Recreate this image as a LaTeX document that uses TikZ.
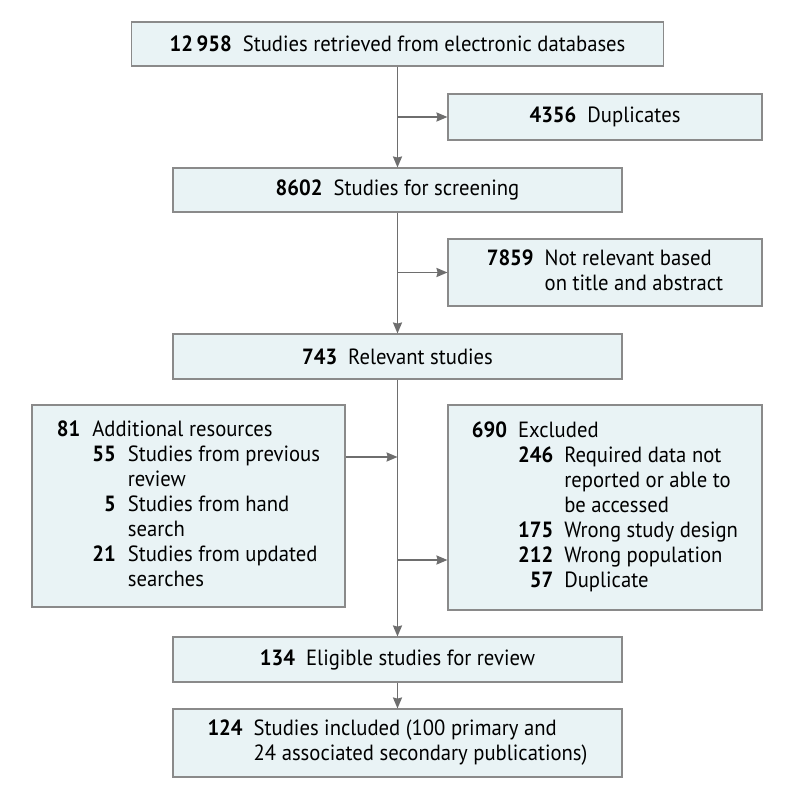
\documentclass[tikz,border=0pt]{standalone}
\usepackage{fontspec}
\setmainfont[FakeStretch=0.94]{PT Sans}
\usetikzlibrary{arrows.meta}
\definecolor{boxfill}{HTML}{E9F3F5}
\definecolor{boxline}{HTML}{8A8A8A}
\definecolor{arrline}{HTML}{6E6E6E}
\tikzset{
    stage/.style={draw=boxline, fill=boxfill, line width=0.6pt,
        inner sep=0pt, align=center,
        font=\fontsize{11pt}{12.5pt}\selectfont},
    flow/.style={draw=arrline, line width=0.65pt,
        -{Stealth[length=5.5pt, width=4.6pt, inset=0.6pt]}}
}
\begin{document}
\begin{tikzpicture}[x=0.5pt, y=-0.5pt]
\newcommand\cnt[1]{\textbf{#1}}
\useasboundingbox (0,0) rectangle (794,797);
\node[stage, minimum width=266pt, minimum height=22pt] (retr) at (397.5,44)
    {\cnt{12\,958}\hspace{5.5pt}Studies retrieved from electronic databases};
\node[stage, minimum width=157pt, minimum height=23pt] (dupl) at (605,117)
    {\cnt{4356}\hspace{5.5pt}Duplicates};
\node[stage, minimum width=224.5pt, minimum height=22pt] (scrn) at (397.5,190)
    {\cnt{8602}\hspace{5.5pt}Studies for screening};
\node[stage, minimum width=157pt, minimum height=33.5pt] (nrel) at (605,272.5)
    {\begin{tabular}{@{}r@{\hspace{5.5pt}}l@{}}
     \cnt{7859} & Not relevant based\\
                & on title and abstract
     \end{tabular}};
\node[stage, minimum width=224.5pt, minimum height=22.5pt] (rele) at (397.5,356.5)
    {\cnt{743}\hspace{5.5pt}Relevant studies};
\node[stage, minimum width=156.5pt, minimum height=101pt] (addl) at (188.5,506)
    {\begin{tabular}{@{}r@{\hspace{6pt}}r@{\hspace{6pt}}l@{}}
     \cnt{81} & \multicolumn{2}{@{}l@{}}{Additional resources}\\
      & \cnt{55} & Studies from previous\\
      &          & review\\
      & \cnt{5}  & Studies from hand\\
      &          & search\\
      & \cnt{21} & Studies from updated\\
      &          & searches
     \end{tabular}};
\node[stage, minimum width=157pt, minimum height=102.5pt] (excl) at (605,507.5)
    {\begin{tabular}{@{}r@{\hspace{5.5pt}}r@{\hspace{5.5pt}}l@{}}
     \cnt{690} & \multicolumn{2}{@{}l@{}}{Excluded}\\
      & \cnt{246} & Required data not\\
      &           & reported or able to\\
      &           & be accessed\\
      & \cnt{175} & Wrong study design\\
      & \cnt{212} & Wrong population\\
      & \cnt{57}  & Duplicate
     \end{tabular}};
\node[stage, minimum width=224.5pt, minimum height=22.5pt] (elig) at (397.5,659.5)
    {\cnt{134}\hspace{5.5pt}Eligible studies for review};
\node[stage, minimum width=224.5pt, minimum height=34pt] (incl) at (397.5,743)
    {\begin{tabular}{@{}r@{\hspace{5.5pt}}l@{}}
     \cnt{124} & Studies included (100 primary and\\
               & 24 associated secondary publications)
     \end{tabular}};
% branch points on the main line
\coordinate (j1) at (397.5,117);
\coordinate (j2) at (397.5,272.5);
\coordinate (j3) at (397.5,457);
\coordinate (j4) at (397.5,560);
\draw[flow] (retr) -- (scrn);
\draw[flow] (scrn) -- (rele);
\draw[flow] (rele) -- (elig);
\draw[flow] (elig) -- (incl);
\draw[flow] (j1) -- (dupl);
\draw[flow] (j2) -- (nrel);
\draw[flow] (addl.east |- j3) -- (j3);
\draw[flow] (j4) -- (j4 -| excl.west);
\end{tikzpicture}
\end{document}
